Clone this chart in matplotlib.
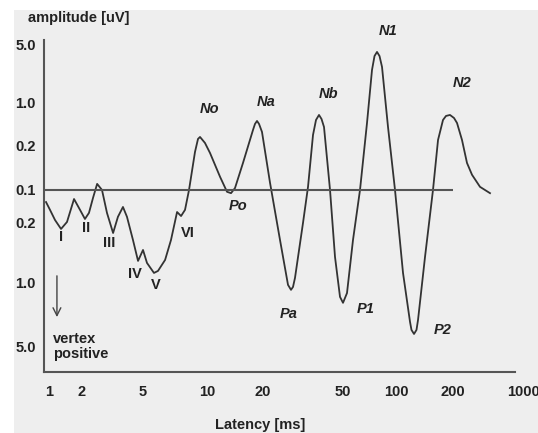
import numpy as np
import matplotlib.pyplot as plt
from matplotlib.patches import Rectangle

plt.rcParams["font.family"] = ["Liberation Sans", "DejaVu Sans"]
plt.rcParams["font.weight"] = "bold"
plt.rcParams["font.size"] = 10.5

# Evoked response trace: latency in ms, amplitude in uV.
# Upward deflections (vertex negative) are positive, downward ones negative.
latency_ms = [
    0.939, 1.021, 1.134, 1.287, 1.459, 1.691, 1.918, 2.09, 2.22, 2.36,
    2.51, 2.70, 2.91, 3.19, 3.43, 3.70, 3.93, 4.30, 4.64, 5.00,
    5.22, 5.63, 5.88, 6.35, 6.77, 7.23, 7.55, 7.88, 8.23, 8.78,
    9.07, 9.27, 9.78, 10.38, 11.75, 12.81, 13.46, 14.14, 15.61, 17.67,
    18.11, 18.57, 19.04, 19.75, 21.67, 24.30, 26.63, 27.56, 28.2, 28.85,
    31.62, 33.49, 35.46, 36.70, 37.98, 39.09, 40.22, 43.09, 45.62, 48.31,
    50.0, 52.68, 56.98, 62.45, 68.44, 73.06, 75.5, 78.0, 80.6, 83.28,
    90.07, 98.70, 108.9, 118.6, 120.7, 124.5, 128.3, 130.7, 142.3, 156.8,
    166.7, 177.1, 183.7, 192.8, 204.6, 219.3, 246.0, 275.9, 309.6, 372.1,
    468.3,
]
amp_uv = [
    -0.129, -0.152, -0.188, -0.235, -0.196, -0.121, -0.152, -0.184, -0.162, -0.118,
    0.110, 0.100, -0.162, -0.262, -0.176, -0.143, -0.176, -0.316, -0.554, -0.413,
    -0.585, -0.765, -0.725, -0.540, -0.316, -0.159, -0.173, -0.152, 0.100, 0.182,
    0.260, 0.280, 0.224, 0.179, 0.123, -0.104, -0.107, 0.103, 0.153, 0.364,
    0.456, 0.510, 0.456, 0.338, 0.112, -0.316, -1.05, -1.19, -1.106, -0.874,
    -0.200, 0.105, 0.302, 0.529, 0.638, 0.549, 0.407, 0.100, -0.498, -1.42,
    -1.65, -1.29, -0.316, 0.100, 0.473, 2.50, 3.68, 4.12, 3.68, 2.72,
    0.407, 0.100, -0.765, -2.67, -3.26, -3.61, -3.26, -2.54, -0.498, 0.100,
    0.250, 0.529, 0.615, 0.638, 0.570, 0.473, 0.250, 0.153, 0.127, 0.105,
    -0.107,
]

wave_names = ["I", "II", "III", "IV", "V", "VI", "No", "Po", "Na",
              "Pa", "Nb", "P1", "N1", "P2", "N2"]
wave_latency = [1.287, 2.09, 3.19, 4.64, 5.63, 7.55, 9.27, 13.46, 18.57,
                27.56, 37.98, 50.0, 78.0, 124.5, 192.8]
wave_amp = [-0.235, -0.184, -0.262, -0.554, -0.765, -0.173, 0.280, -0.107, 0.510,
            -1.19, 0.638, -1.65, 4.12, -3.61, 0.638]

x_ticks = [1, 2, 5, 10, 20, 50, 100, 200, 1000]
x_tick_labels = ["1", "2", "5", "10", "20", "50", "100", "200", "1000"]
y_ticks = [5.0, 1.0, 0.2, 0.1, -0.2, -1.0, -5.0]
y_tick_labels = ["5.0", "1.0", "0.2", "0.1", "0.2", "1.0", "5.0"]

# the axes are hand-spaced: distance of each printed tick from the first one
x_stops = [0, 33, 94, 158, 214, 294, 347, 404, 474]
amp_steps = [0.1, 0.2, 1.0, 5.0]
up_stops = [0, 44, 87, 145]
down_stops = [0, 33, 93, 157]


def interp_ext(x, xp, fp):
    # np.interp, but carried on linearly past both ends
    x = np.asarray(x, dtype=float)
    xp = np.asarray(xp, dtype=float)
    fp = np.asarray(fp, dtype=float)
    y = np.interp(x, xp, fp)
    lo = fp[0] + (x - xp[0]) * (fp[1] - fp[0]) / (xp[1] - xp[0])
    hi = fp[-1] + (x - xp[-1]) * (fp[-1] - fp[-2]) / (xp[-1] - xp[-2])
    return np.where(x < xp[0], lo, np.where(x > xp[-1], hi, y))


log_xt = np.log10(x_ticks)
log_amp = np.log10(amp_steps)


def x_fwd(v):
    v = np.maximum(np.asarray(v, dtype=float), 1e-6)
    return interp_ext(np.log10(v), log_xt, x_stops)


def x_inv(u):
    return 10 ** interp_ext(u, x_stops, log_xt)


def y_fwd(a):
    a = np.asarray(a, dtype=float)
    up = interp_ext(np.log10(np.maximum(a, 0.1)), log_amp, up_stops)
    down = -interp_ext(np.log10(np.maximum(-a, 0.1)), log_amp, down_stops)
    return np.where(a >= 0, up, down)


def y_inv(u):
    u = np.asarray(u, dtype=float)
    up = 10 ** interp_ext(u, up_stops, log_amp)
    down = -(10 ** interp_ext(-u, down_stops, log_amp))
    return np.where(u >= 0, up, down)


fig = plt.figure(figsize=(5.38, 4.33), dpi=100)
fig.patch.set_facecolor("white")
fig.patches.append(Rectangle((14 / 538, 0), 1, 423 / 433, transform=fig.transFigure,
                             facecolor="#eeeeee", edgecolor="none", zorder=-10))

ax = fig.add_axes([44 / 538, 61 / 433, 479 / 538, 332 / 433])
ax.patch.set_visible(False)
ax.set_xscale("function", functions=(x_fwd, x_inv))
ax.set_yscale("function", functions=(y_fwd, y_inv))
ax.set_xlim(0.9, 1000)
ax.set_ylim(-9.4, 5.74)

ink = "#222222"
ax.plot(latency_ms, amp_uv, color="#333333", lw=1.3, solid_joinstyle="round")
ax.hlines(0.1, 0.9, 200, color="#555555", lw=1.5)

for side in ["top", "right"]:
    ax.spines[side].set_visible(False)
for side in ["left", "bottom"]:
    ax.spines[side].set_color("#555555")
    ax.spines[side].set_linewidth(1.5)
ax.spines["bottom"].set_bounds(0.9, 830)

ax.set_xticks(x_ticks, x_tick_labels)
ax.set_yticks(y_ticks, y_tick_labels)
ax.minorticks_off()
ax.tick_params(axis="both", length=0, colors=ink, labelsize=10.5)
ax.tick_params(axis="x", pad=9)
ax.tick_params(axis="y", pad=6)

label_offsets = [(0, -8), (1, -9), (-4, -10), (-3, -13), (2, -12), (7, -17),
                 (9, 28), (7, -13), (9, 19), (-2, -24), (9, 21), (23, -6),
                 (11, 21), (29, 4), (12, 32)]
for name, lat, amp, off in zip(wave_names, wave_latency, wave_amp, label_offsets):
    style = "normal" if name[0] in "IV" else "italic"
    ax.annotate(name, (lat, amp), xytext=off, textcoords="offset pixels",
                ha="center", va="center", color=ink, fontstyle=style,
                fontsize=10.5)

ax.annotate("", xy=(0.027, 0.157), xytext=(0.027, 0.298), xycoords="axes fraction",
            arrowprops=dict(arrowstyle="->", color="#444444", lw=1.0,
                            mutation_scale=14))
ax.text(0.019, 0.077, "vertex\npositive", transform=ax.transAxes, ha="left",
        va="center", color=ink, linespacing=1.15)

fig.text(28 / 538, 1 - 18 / 433, "amplitude [uV]", ha="left", va="center", color=ink)
fig.text(260 / 538, 1 - 425 / 433, "Latency [ms]", ha="center", va="center", color=ink)

fig.savefig("out.png", dpi=100)
